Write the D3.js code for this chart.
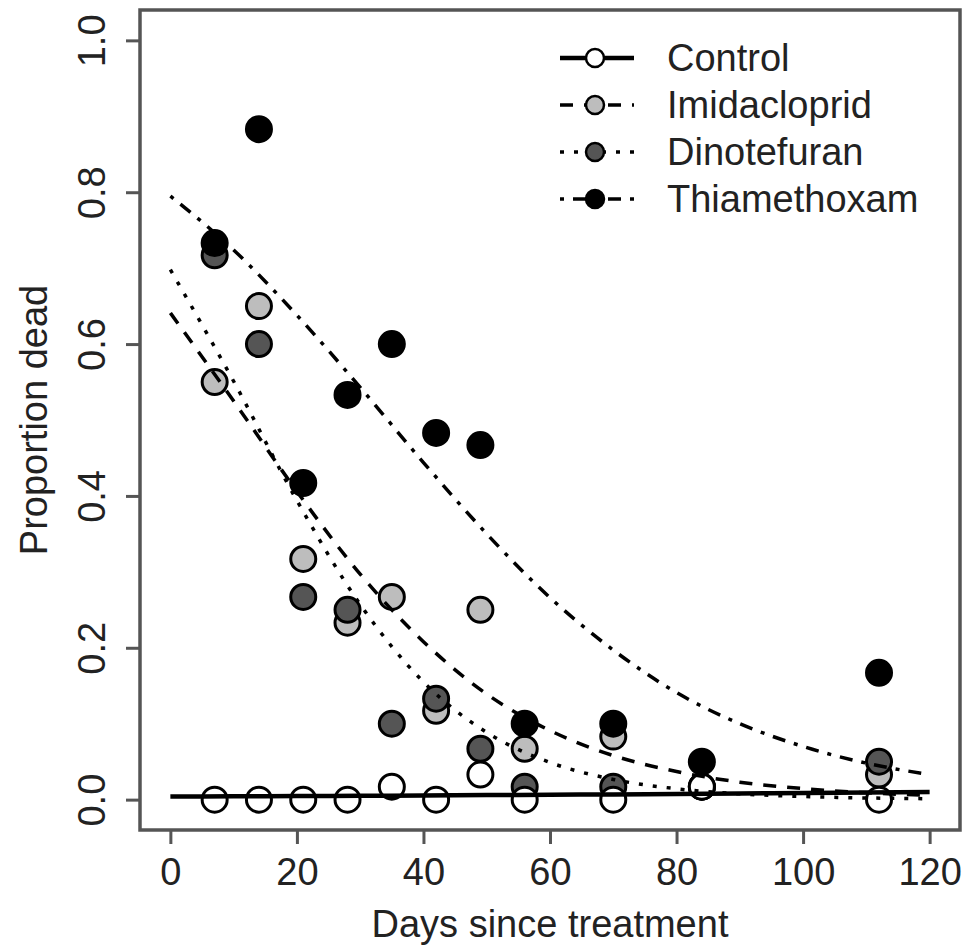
<!DOCTYPE html>
<html>
<head>
<meta charset="utf-8">
<script src="https://cdn.jsdelivr.net/npm/d3@7"></script>
<style>
  body { margin: 0; background: #fff; }
  text { font-family: "Liberation Sans", Arial, sans-serif; fill: #222; }
</style>
</head>
<body>
<div id="viz"></div>
<script>
// ===== DATA =====
const days = [7, 14, 21, 28, 35, 42, 49, 56, 70, 84, 112];
const control      = [0, 0, 0, 0, 0.017, 0, 0.033, 0, 0, 0.017, 0];
const imidacloprid = [0.55, 0.65, 0.317, 0.233, 0.267, 0.117, 0.25, 0.067, 0.083, 0.017, 0.033];
const dinotefuran  = [0.717, 0.6, 0.267, 0.25, 0.1, 0.133, 0.067, 0.017, 0.017, 0.017, 0.05];
const thiamethoxam = [0.733, 0.883, 0.417, 0.533, 0.6, 0.483, 0.467, 0.1, 0.1, 0.05, 0.167];

// fitted curves, sampled every 10 days
const curveDays = [0, 10, 20, 30, 40, 50, 60, 70, 80, 90, 100, 110, 120];
const controlFit      = [0.004, 0.0043, 0.0047, 0.005, 0.0055, 0.006, 0.0064, 0.0069, 0.0075, 0.0081, 0.0088, 0.0094, 0.010];
const imidaclopridFit = [0.641, 0.525, 0.406, 0.297, 0.208, 0.139, 0.091, 0.058, 0.037, 0.023, 0.0145, 0.009, 0.0056];
const dinotefuranFit  = [0.698, 0.551, 0.394, 0.257, 0.155, 0.0885, 0.049, 0.0266, 0.0143, 0.0076, 0.0041, 0.0022, 0.0012];
const thiamethoxamFit = [0.795, 0.724, 0.638, 0.543, 0.444, 0.350, 0.266, 0.197, 0.141, 0.100, 0.070, 0.048, 0.033];

const seriesNames = ['Control', 'Imidacloprid', 'Dinotefuran', 'Thiamethoxam'];
const xTicks = [0, 20, 40, 60, 80, 100, 120];
const yTicks = [0, 0.2, 0.4, 0.6, 0.8, 1.0];

function drawChart() {
    const width = 974;
    const height = 947;

    // styles per series
    const fills = { Control: '#ffffff', Imidacloprid: '#bdbdbd', Dinotefuran: '#555555', Thiamethoxam: '#000000' };
    const dashes = { Control: null, Imidacloprid: '13 11', Dinotefuran: '4 10', Thiamethoxam: '4 9 13 9' };
    const widths = { Control: 4.5, Imidacloprid: 3.5, Dinotefuran: 3.5, Thiamethoxam: 3.5 };

    const points = {
        Control: control, Imidacloprid: imidacloprid,
        Dinotefuran: dinotefuran, Thiamethoxam: thiamethoxam
    };
    const fits = {
        Control: controlFit, Imidacloprid: imidaclopridFit,
        Dinotefuran: dinotefuranFit, Thiamethoxam: thiamethoxamFit
    };
    // draw order of the symbols, as seen in the overlaps
    const pointOrder = ['Imidacloprid', 'Dinotefuran', 'Control', 'Thiamethoxam'];

    const svg = d3.select('#viz')
        .append('svg')
            .attr('width', width)
            .attr('height', height);

    // R style 4% padding on the ranges
    const xScale = d3.scaleLinear().domain([-4.8, 124.8]).range([140, 960]);
    const yScale = d3.scaleLinear().domain([-0.04, 1.04]).range([830, 10]);

    // points first, curves on top
    pointOrder.forEach(name => {
        svg.append('g')
            .selectAll('circle')
            .data(days.map((d, i) => [d, points[name][i]]))
            .join('circle')
                .attr('cx', d => xScale(d[0]))
                .attr('cy', d => yScale(d[1]))
                .attr('r', 12.5)
                .attr('fill', fills[name])
                .attr('stroke', '#000')
                .attr('stroke-width', 3);
    });

    const line = d3.line()
        .x(d => xScale(d[0]))
        .y(d => yScale(d[1]))
        .curve(d3.curveMonotoneX);

    seriesNames.forEach(name => {
        svg.append('path')
            .datum(curveDays.map((d, i) => [d, fits[name][i]]))
            .attr('d', line)
            .attr('fill', 'none')
            .attr('stroke', '#000')
            .attr('stroke-width', widths[name])
            .attr('stroke-dasharray', dashes[name]);
    });

    // box
    svg.append('rect')
        .attr('x', 140).attr('y', 10)
        .attr('width', 820).attr('height', 820)
        .attr('fill', 'none')
        .attr('stroke', '#555')
        .attr('stroke-width', 3.5);

    // axes
    const xAxis = svg.append('g')
        .attr('transform', 'translate(0,830)')
        .call(d3.axisBottom(xScale).tickValues(xTicks).tickSize(14));
    xAxis.select('.domain').remove();
    xAxis.selectAll('line').attr('stroke', '#555').attr('stroke-width', 3);
    xAxis.selectAll('text')
        .attr('y', 55).attr('dy', 0)
        .style('font-size', '38px')
        .style('fill', '#222');

    const yAxis = svg.append('g')
        .attr('transform', 'translate(140,0)')
        .call(d3.axisLeft(yScale).tickValues(yTicks).tickSize(14).tickFormat(d3.format('.1f')));
    yAxis.select('.domain').remove();
    yAxis.selectAll('line').attr('stroke', '#555').attr('stroke-width', 3);
    yAxis.selectAll('text')
        .attr('transform', 'rotate(-90)')
        .attr('x', 0).attr('y', -35).attr('dy', 0)
        .attr('text-anchor', 'middle')
        .style('font-size', '38px')
        .style('fill', '#222');

    // axis titles
    svg.append('text')
        .attr('x', 550).attr('y', 937)
        .attr('text-anchor', 'middle')
        .style('font-size', '38px')
        .text('Days since treatment');

    svg.append('text')
        .attr('transform', 'translate(47,420) rotate(-90)')
        .attr('text-anchor', 'middle')
        .style('font-size', '38px')
        .text('Proportion dead');

    // legend
    const legend = svg.append('g')
        .selectAll('g')
        .data(seriesNames)
        .join('g')
            .attr('transform', (d, i) => `translate(0, ${58 + i * 47})`);

    legend.append('line')
        .attr('x1', 560).attr('x2', 634)
        .attr('stroke', '#000')
        .attr('stroke-width', d => widths[d])
        .attr('stroke-dasharray', d => dashes[d]);

    legend.append('circle')
        .attr('cx', 595)
        .attr('r', 9)
        .attr('fill', d => fills[d])
        .attr('stroke', '#000')
        .attr('stroke-width', 2.5);

    legend.append('text')
        .attr('x', 667).attr('y', 13)
        .style('font-size', '38px')
        .text(d => d);
}

drawChart();
</script>
</body>
</html>
